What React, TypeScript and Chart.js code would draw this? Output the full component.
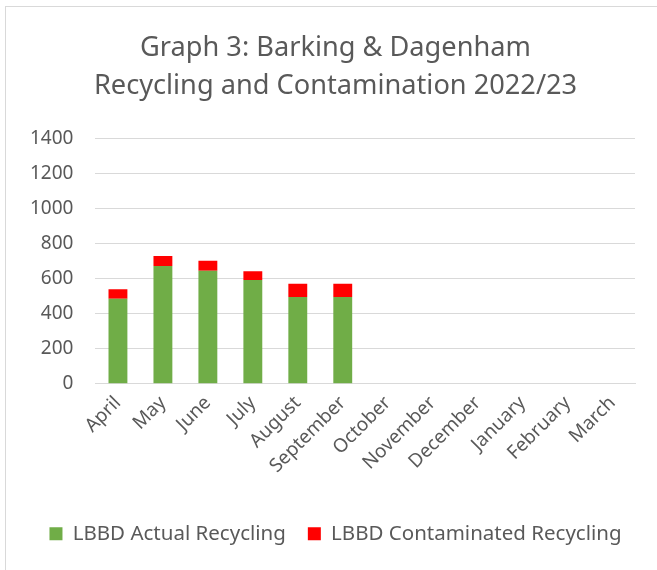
import React, { useEffect, useRef } from "react";
import { Chart, registerables } from "chart.js";

Chart.register(...registerables);

const months = ["April", "May", "June", "July", "August", "September", "October", "November", "December", "January", "February", "March"];
const actualRecycling = [484, 672, 644, 591, 495, 495, null, null, null, null, null, null];
const contaminatedRecycling = [55, 56, 57, 51, 75, 75, null, null, null, null, null, null];
const titleLines = ["Graph 3: Barking & Dagenham", "Recycling and Contamination 2022/23"];

export default function App() {
  const ref = useRef<HTMLCanvasElement>(null);
  useEffect(() => {
    const font = "'Noto Sans', 'Open Sans', sans-serif";
    const chart = new Chart(ref.current!, {
      type: "bar",
      data: {
        labels: months,
        datasets: [
          { label: "LBBD Actual Recycling", data: actualRecycling, backgroundColor: "#70AD47", borderWidth: 0, barPercentage: 0.42, categoryPercentage: 1 },
          { label: "LBBD Contaminated Recycling", data: contaminatedRecycling, backgroundColor: "#FF0000", borderWidth: 0, barPercentage: 0.42, categoryPercentage: 1 },
        ],
      },
      options: {
        animation: false,
        responsive: false,
        maintainAspectRatio: false,
        layout: { padding: { left: 8, right: 7, top: 12, bottom: 16 } },
        plugins: {
          title: {
            display: true,
            text: titleLines,
            color: "#595959",
            font: { family: font, size: 27.2, weight: "normal", lineHeight: 1.4 },
            padding: { top: 17, bottom: 33 },
          },
          legend: {
            position: "bottom",
            labels: {
              color: "#595959",
              font: { family: font, size: 20.5 },
              boxWidth: 13,
              boxHeight: 13,
              padding: 22,
            },
          },
          tooltip: { enabled: false },
        },
        scales: {
          x: {
            stacked: true,
            grid: { display: false },
            border: { color: "#D9D9D9" },
            ticks: { color: "#595959", font: { family: font, size: 19 }, maxRotation: 45, minRotation: 45, padding: 0 },
            afterFit: (s: any) => { s.height += 24; },
          },
          y: {
            stacked: true,
            min: 0,
            max: 1400,
            ticks: { stepSize: 200, color: "#595959", font: { family: font, size: 19 }, padding: 22, callback: (v: any) => String(v) },
            grid: { color: "#D9D9D9", lineWidth: 1, tickLength: 0 },
            border: { display: false },
          },
          spacer: {
            type: "linear",
            position: "right",
            display: true,
            grid: { display: false, drawTicks: false },
            ticks: { display: false },
            border: { display: false },
            afterFit: (s: any) => { s.width = 28; },
          },
        },
      },
    });
    return () => chart.destroy();
  }, []);
  return (
    <div style={{ position: "fixed", left: 0, top: 0, width: 657, height: 570, background: "#fff", overflow: "hidden" }}>
      <div style={{ position: "absolute", left: 5, top: 6, right: 0, bottom: 0, borderLeft: "1px solid #D9D9D9", borderTop: "1px solid #D9D9D9" }} />
      <canvas ref={ref} width={670} height={570} style={{ position: "absolute", left: 0, top: 0 }} />
    </div>
  );
}
